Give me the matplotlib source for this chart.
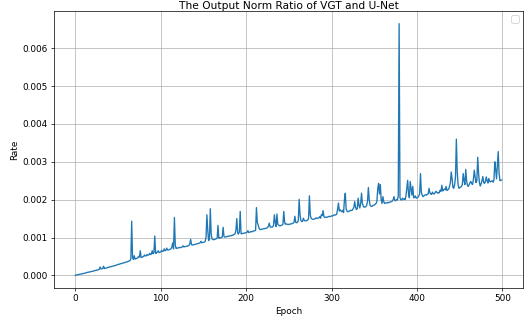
import matplotlib
matplotlib.use("Agg")
import matplotlib.pyplot as plt
import numpy as np

# output norm ratio per epoch, in units of 1e-5
ratio_e5 = [
    0, 1, 1, 2, 2, 3, 3, 4, 4, 5,
    5, 6, 6, 7, 8, 8, 9, 9, 10, 10,
    11, 11, 12, 13, 13, 14, 14, 15, 16, 22,
    17, 17, 18, 24, 18, 19, 19, 20, 21, 21,
    22, 23, 23, 24, 24, 25, 26, 26, 27, 28,
    29, 29, 30, 31, 31, 32, 33, 33, 34, 35,
    35, 36, 37, 38, 39, 44, 143, 47, 42, 52,
    43, 44, 45, 46, 50, 48, 65, 47, 48, 49,
    50, 54, 51, 52, 55, 53, 54, 58, 55, 56,
    65, 57, 60, 104, 58, 59, 62, 65, 60, 61,
    62, 66, 63, 64, 70, 65, 66, 72, 67, 67,
    68, 69, 70, 75, 86, 70, 153, 80, 71, 72,
    72, 73, 74, 73, 74, 75, 78, 75, 76, 76,
    77, 77, 78, 79, 83, 95, 81, 80, 81, 81,
    82, 82, 83, 84, 84, 85, 86, 90, 86, 87,
    87, 88, 90, 100, 160, 120, 92, 95, 176, 110,
    96, 95, 94, 95, 96, 97, 98, 132, 98, 99,
    99, 100, 101, 127, 103, 101, 102, 102, 103, 103,
    104, 104, 105, 105, 106, 107, 108, 110, 120, 150,
    112, 109, 115, 169, 110, 110, 111, 111, 112, 112,
    113, 114, 118, 113, 114, 115, 116, 115, 117, 117,
    118, 119, 179, 140, 133, 125, 121, 121, 122, 122,
    123, 123, 124, 124, 125, 126, 130, 138, 128, 127,
    128, 128, 132, 160, 140, 129, 162, 135, 133, 131,
    131, 132, 133, 135, 169, 140, 135, 136, 135, 134,
    135, 135, 136, 136, 137, 138, 140, 156, 140, 139,
    140, 145, 201, 160, 145, 142, 143, 151, 145, 144,
    144, 145, 146, 150, 210, 160, 151, 149, 148, 148,
    149, 150, 152, 150, 151, 152, 155, 151, 160, 158,
    171, 155, 153, 154, 153, 154, 155, 156, 155, 156,
    157, 157, 158, 160, 159, 160, 162, 175, 191, 170,
    173, 170, 168, 172, 166, 200, 217, 175, 170, 168,
    169, 170, 172, 171, 172, 175, 180, 195, 180, 174,
    176, 204, 185, 178, 190, 217, 190, 183, 180, 181,
    181, 185, 195, 232, 200, 185, 183, 182, 184, 185,
    186, 188, 190, 195, 230, 243, 215, 240, 200, 190,
    208, 195, 190, 191, 192, 191, 193, 192, 193, 194,
    195, 196, 200, 208, 198, 197, 200, 199, 210, 665,
    205, 200, 199, 204, 201, 202, 200, 210, 230, 251,
    215, 205, 248, 230, 212, 235, 205, 206, 210, 204,
    205, 206, 210, 215, 269, 220, 212, 208, 210, 212,
    213, 212, 214, 215, 230, 218, 215, 214, 220, 216,
    215, 218, 222, 220, 217, 219, 218, 225, 222, 238,
    223, 225, 228, 226, 235, 224, 226, 228, 235, 245,
    273, 255, 232, 230, 240, 260, 360, 275, 240, 230,
    232, 233, 235, 240, 269, 250, 240, 280, 250, 237,
    235, 240, 245, 248, 242, 240, 255, 278, 260, 245,
    250, 312, 270, 245, 236, 242, 250, 261, 245, 243,
    248, 260, 250, 244, 256, 248, 247, 249, 250, 246,
    252, 300, 280, 255, 290, 327, 270, 250, 251, 252,
]

rate = np.array(ratio_e5) * 1e-5
epochs = np.arange(len(rate))

DPI = 64
fig, ax = plt.subplots(figsize=(532 / DPI, 325 / DPI), dpi=DPI)
fig.subplots_adjust(left=0.1015, right=0.983, bottom=0.114, top=0.966)

ax.plot(epochs, rate)
ax.set_title("The Output Norm Ratio of VGT and U-Net", pad=2)
ax.set_xlabel("Epoch")
ax.set_ylabel("Rate")
ax.grid(True)
ax.legend(handles=[], labels=[])

fig.savefig("out.png", dpi=DPI)
